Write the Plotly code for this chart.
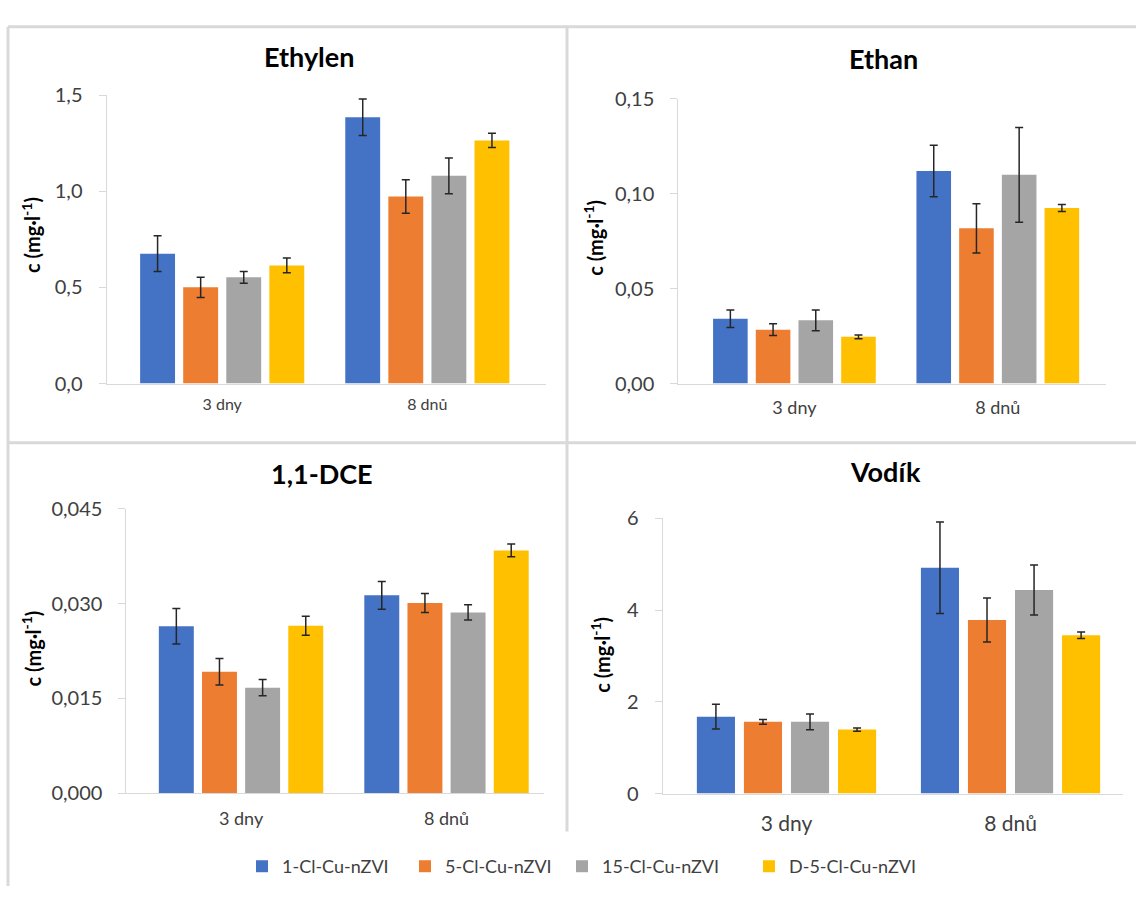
import plotly.graph_objects as go

W, H = 1136, 897

series = ["1-Cl-Cu-nZVI", "5-Cl-Cu-nZVI", "15-Cl-Cu-nZVI", "D-5-Cl-Cu-nZVI"]
colors = ["#4472C4", "#ED7D31", "#A5A5A5", "#FFC000"]
categories = ["3 dny", "8 dnů"]

# values per series: [3 dny, 8 dnů]
ethylen = [[0.675, 1.385], [0.50, 0.972], [0.552, 1.08], [0.614, 1.264]]
ethylen_err = [[0.093, 0.095], [0.053, 0.087], [0.031, 0.093], [0.038, 0.037]]

ethan = [[0.0341, 0.112], [0.0284, 0.0818], [0.0333, 0.110], [0.0246, 0.0925]]
ethan_err = [[0.0046, 0.0136], [0.0031, 0.013], [0.0055, 0.025], [0.001, 0.0018]]

dce = [[0.0264, 0.0313], [0.0192, 0.0301], [0.0167, 0.0286], [0.0265, 0.0384]]
dce_err = [[0.0028, 0.0022], [0.0021, 0.0015], [0.0013, 0.0012], [0.0015, 0.001]]

vodik = [[1.677, 4.924], [1.563, 3.784], [1.563, 4.44], [1.394, 3.452]]
vodik_err = [[0.27, 1.0], [0.053, 0.48], [0.17, 0.545], [0.035, 0.07]]

titles = ["Ethylen", "Ethan", "1,1-DCE", "Vodík"]
yranges = [[0, 1.5], [0, 0.15], [0, 0.045], [0, 6]]
ydticks = [0.5, 0.05, 0.015, 2]
yformats = [".1f", ".2f", ".3f", "d"]

FONT = "Lato"
TXT = "#404040"
GRID = "#d9d9d9"

# panel geometry in pixels: x0, x1, y0(top), y1(bottom)
panels = [
    (106.5, 545.7, 84.3, 380.7),
    (678.3, 1105.6, 88.3, 380.7),
    (126.4, 544.3, 509.3, 801.7),
    (662.6, 1123.0, 519.3, 802.0),
]
xranges = [[-0.564, 1.577], [-0.571, 1.53], [-0.558, 1.476], [-0.553, 1.502]]
title_pos = [(309, 45), (883.5, 47), (322.4, 473), (885.7, 471)]
ytitle_pos = [(31, 228), (593, 231), (31, 653), (600.5, 660)]
cat_sizes = [16, 18, 18, 21]
cat_standoff = [6, 8, 9, 11]

data = [(ethylen, ethylen_err), (ethan, ethan_err), (dce, dce_err), (vodik, vodik_err)]

fig = go.Figure()
xpos = list(range(len(categories)))

for p, (vals, errs) in enumerate(data):
    ax = "" if p == 0 else str(p + 1)
    for s in range(len(series)):
        fig.add_trace(go.Bar(
            x=xpos, y=vals[s], name=series[s],
            marker=dict(color=colors[s], line=dict(width=0)),
            error_y=dict(type="data", array=errs[s], color="#262626", thickness=1.5, width=4),
            xaxis="x" + ax, yaxis="y" + ax,
            showlegend=(p == 0),
            legend=("legend" if s == 0 else "legend" + str(s + 1)),
        ))

layout = dict(
    width=W, height=H, margin=dict(l=0, r=0, t=0, b=0),
    paper_bgcolor="white", plot_bgcolor="white",
    barmode="group", bargap=0.16, bargroupgap=0.19,
    separators=", ",
    font=dict(family=FONT, color=TXT),
    annotations=[], shapes=[],
)

for p in range(4):
    x0, x1, y0, y1 = panels[p]
    ax = "" if p == 0 else str(p + 1)
    layout["xaxis" + ax] = dict(
        domain=[x0 / W, x1 / W], range=xranges[p], anchor="y" + ax,
        tickvals=xpos, ticktext=categories,
        tickfont=dict(size=cat_sizes[p], color=TXT, family=FONT),
        showline=True, linecolor=GRID, linewidth=1, showgrid=False, zeroline=False,
        ticks="", fixedrange=True, ticklabelstandoff=cat_standoff[p],
    )
    layout["yaxis" + ax] = dict(
        domain=[1 - y1 / H, 1 - y0 / H], range=yranges[p], anchor="x" + ax,
        dtick=ydticks[p], tick0=0, tickformat=yformats[p],
        tickfont=dict(size=20, color=TXT, family=FONT),
        showline=True, linecolor=GRID, linewidth=1, showgrid=False, zeroline=False,
        ticks="outside", ticklen=7, tickcolor=GRID, tickwidth=1,
        ticklabelstandoff=12,
    )
    tx, ty = title_pos[p]
    layout["annotations"].append(dict(
        text=f"<b>{titles[p]}</b>", x=tx / W, y=1 - ty / H, xref="paper", yref="paper",
        showarrow=False, xanchor="center", yanchor="middle",
        font=dict(size=27, color="#000000", family=FONT)))
    yx, yy = ytitle_pos[p]
    layout["annotations"].append(dict(
        text="<b>c (mg·l<sup>-1</sup>)</b>", x=yx / W, y=1 - yy / H, xref="paper", yref="paper",
        showarrow=False, xanchor="center", yanchor="middle", textangle=-90,
        font=dict(size=20, color="#000000", family=FONT)))

# panel border lines
line = dict(color=GRID, width=3)
for (a, b, c, d) in [(8, 14, 1136, 14), (8, 14, 8, 897), (8, 441.5, 1136, 441.5), (567, 14, 567, 841)]:
    layout["shapes"].append(dict(type="line", xref="paper", yref="paper",
                                 x0=a / W, x1=c / W, y0=1 - b / H, y1=1 - d / H, line=line))

# legends: one per series, placed along the bottom
leg_marker_x = [264, 427, 584, 771]
for s in range(len(series)):
    key = "legend" if s == 0 else "legend" + str(s + 1)
    layout[key] = dict(
        x=(leg_marker_x[s] - 22) / W, y=1 - 877 / H, xanchor="left", yanchor="middle",
        orientation="h", bgcolor="rgba(0,0,0,0)",
        font=dict(size=18, color=TXT, family=FONT),
    )

fig.update_layout(**layout)
fig.write_html("out.html")
